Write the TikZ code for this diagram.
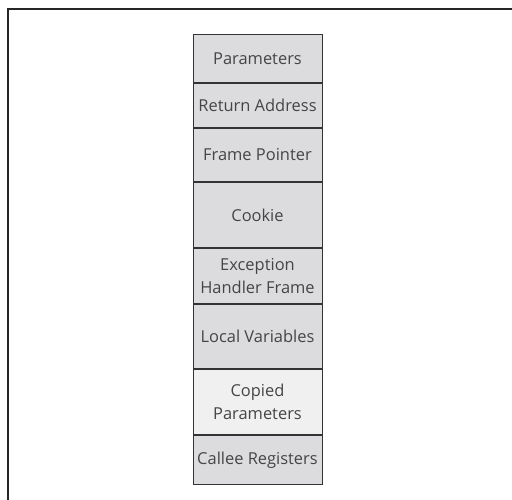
\documentclass[tikz,border=0pt]{standalone}
\usepackage{fontspec}
\setmainfont{Open Sans}
\usetikzlibrary{positioning}

\definecolor{slotgray}{HTML}{DCDCDE}
\definecolor{slotlight}{HTML}{F0F0F0}
\definecolor{slottext}{HTML}{454545}
\tikzset{
  slot/.style={draw=black!80,line width=1bp,fill=slotgray,text=slottext,
    minimum width=129bp,inner sep=0pt,align=center,
    font=\fontsize{16.5}{23}\selectfont},
}

\begin{document}
\begin{tikzpicture}[x=1bp,y=-1bp,>=stealth]
  \useasboundingbox (0,0) rectangle (512,500);
  \draw[line width=2.5bp,black!85] (8,500) -- (8,9) -- (512,9);
  \node[slot,minimum height=48bp,anchor=north] (params) at (257.5,34) {Parameters};
  \node[slot,minimum height=44bp,below=0pt of params] (retaddr) {Return Address};
  \node[slot,minimum height=53bp,below=0pt of retaddr] (frameptr) {Frame Pointer};
  \node[slot,minimum height=65bp,below=0pt of frameptr] (cookie) {Cookie};
  \node[slot,minimum height=55bp,below=0pt of cookie] (handler) {Exception\\Handler Frame};
  \node[slot,minimum height=64bp,below=0pt of handler] (locals) {Local Variables};
  \node[slot,fill=slotlight,minimum height=65bp,below=0pt of locals] (copied) {Copied\\Parameters};
  \node[slot,minimum height=49bp,below=0pt of copied] (callee) {Callee Registers};
\end{tikzpicture}
\end{document}
